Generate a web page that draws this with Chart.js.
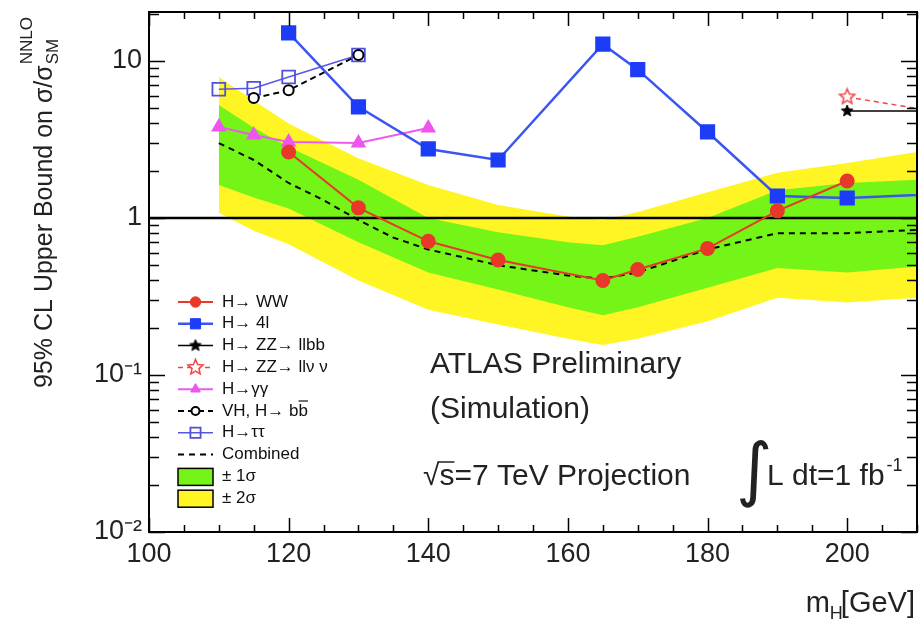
<!DOCTYPE html>
<html>
<head>
<meta charset="utf-8">
<script src="https://cdn.jsdelivr.net/npm/chart.js@4"></script>
<style>
  html, body { margin: 0; padding: 0; background: #fff; }
</style>
</head>
<body>
<canvas id="chart" width="924" height="621"></canvas>
<script>
// Werte (m_H in GeV, Grenze relativ zu sigma_SM)
const massWW = [120, 130, 140, 150, 165, 170, 180, 190, 200];
const limitWW = [2.63, 1.16, 0.71, 0.54, 0.40, 0.47, 0.64, 1.11, 1.72];

const mass4l = [120, 130, 140, 150, 165, 170, 180, 190, 200, 220];
const limit4l = [15.1, 5.1, 2.75, 2.34, 12.8, 8.8, 3.53, 1.38, 1.34, 1.46];

const massLLBB = [200, 220];
const limitLLBB = [4.8, 4.8];

const massLLNN = [200, 220];
const limitLLNN = [5.9, 4.2];

const massGG = [110, 115, 120, 130, 140];
const limitGG = [3.8, 3.38, 3.05, 3.0, 3.74];

const massVH = [115, 120, 130];
const limitVH = [5.8, 6.5, 10.9];

const massTT = [110, 115, 120, 130];
const limitTT = [6.6, 6.7, 7.9, 10.9];

const massComb = [110, 115, 120, 125, 130, 135, 140, 150, 160, 165, 170, 180, 190, 200, 210];
const limitComb = [3.0, 2.34, 1.67, 1.30, 0.97, 0.75, 0.63, 0.50, 0.43, 0.41, 0.45, 0.63, 0.80, 0.80, 0.84];

const massBand = [110, 115, 120, 130, 140, 150, 160, 165, 170, 180, 190, 200, 210];
const yellowUp = [7.9, 5.6, 4.0, 2.4, 1.62, 1.21, 1.02, 0.97, 1.09, 1.46, 1.94, 2.24, 2.63];
const greenUp  = [5.25, 3.75, 2.83, 1.75, 1.0, 0.81, 0.70, 0.67, 0.76, 1.0, 1.5, 1.67, 1.75];
const greenLo  = [1.62, 1.35, 1.15, 0.70, 0.45, 0.35, 0.27, 0.24, 0.27, 0.36, 0.48, 0.45, 0.49];
const yellowLo = [1.08, 0.83, 0.68, 0.40, 0.26, 0.21, 0.17, 0.155, 0.17, 0.22, 0.31, 0.29, 0.31];

const unityMass = [100, 210];
const unityLimit = [1, 1];

const xTickValues = [100, 120, 140, 160, 180, 200];
const yTickValues = [0.01, 0.1, 1, 10];
const yTickLabels = ['10⁻²', '10⁻¹', '1', '10'];

const FONT = '"Liberation Sans", Arial, Helvetica, sans-serif';
const GREEN = '#74f517';
const YELLOW = '#fff524';

function pts(xs, ys) {
  return xs.map((x, i) => ({ x: x, y: ys[i] }));
}

// kleiner Stern als Punktsymbol
function starCanvas(r, fill, stroke, lw) {
  const c = document.createElement('canvas');
  const s = Math.ceil(r * 2 + lw * 2 + 2);
  c.width = s; c.height = s;
  const g = c.getContext('2d');
  g.beginPath();
  for (let i = 0; i < 10; i++) {
    const a = -Math.PI / 2 + i * Math.PI / 5;
    const rr = i % 2 ? r * 0.45 : r;
    g.lineTo(s / 2 + rr * Math.cos(a), s / 2 + rr * Math.sin(a));
  }
  g.closePath();
  if (fill) { g.fillStyle = fill; g.fill(); }
  if (stroke) { g.lineWidth = lw; g.strokeStyle = stroke; g.stroke(); }
  return c;
}

const blackStar = starCanvas(6, '#000', '#000', 1);
const redStar = starCanvas(8, '#fff', '#f04545', 1.5);

const datasets = [
  { label: 'yellowUp', data: pts(massBand, yellowUp), fill: 1, backgroundColor: YELLOW, borderWidth: 0, pointRadius: 0, order: 4 },
  { label: 'yellowLo', data: pts(massBand, yellowLo), fill: false, borderWidth: 0, pointRadius: 0, order: 4 },
  { label: 'greenUp', data: pts(massBand, greenUp), fill: 3, backgroundColor: GREEN, borderWidth: 0, pointRadius: 0, order: 3 },
  { label: 'greenLo', data: pts(massBand, greenLo), fill: false, borderWidth: 0, pointRadius: 0, order: 3 },
  { label: 'unity', data: pts(unityMass, unityLimit), borderColor: '#000', borderWidth: 2.5, pointRadius: 0, order: 2 },
  { label: 'Combined', data: pts(massComb, limitComb), borderColor: '#000', borderWidth: 2, borderDash: [6, 5], pointRadius: 0, order: 1 },
  { label: 'H→ WW', data: pts(massWW, limitWW), borderColor: '#e8382a', borderWidth: 2, pointStyle: 'circle', pointRadius: 6.5, pointBackgroundColor: '#e8382a', pointBorderColor: '#e8382a', order: 0 },
  { label: 'H→ 4l', data: pts(mass4l, limit4l), borderColor: '#3a55f0', borderWidth: 2.5, pointStyle: 'rect', pointRadius: 9, pointBackgroundColor: '#1c3cf8', pointBorderColor: '#1c3cf8', order: 0 },
  { label: 'H→ ZZ→ llbb', data: pts(massLLBB, limitLLBB), borderColor: '#000', borderWidth: 1.5, pointStyle: blackStar, pointRadius: 6, order: 0 },
  { label: 'H→ ZZ→ llν ν', data: pts(massLLNN, limitLLNN), borderColor: '#f04545', borderWidth: 1.5, borderDash: [5, 4], pointStyle: redStar, pointRadius: 8, order: 0 },
  { label: 'H→γγ', data: pts(massGG, limitGG), borderColor: '#ee5aee', borderWidth: 2, pointStyle: 'triangle', pointRadius: 7, pointBackgroundColor: '#ee55ee', pointBorderColor: '#ee55ee', order: 0 },
  { label: 'VH, H→ bb', overline: true, data: pts(massVH, limitVH), borderColor: '#000', borderWidth: 2, borderDash: [6, 4], pointStyle: 'circle', pointRadius: 5, pointBorderWidth: 2, pointBackgroundColor: '#fff', pointBorderColor: '#000', order: 0 },
  { label: 'H→ττ', data: pts(massTT, limitTT), borderColor: '#5858e6', borderWidth: 1.5, pointStyle: 'rect', pointRadius: 9, pointBorderWidth: 1.8, pointBackgroundColor: 'rgba(0,0,0,0)', pointBorderColor: '#5050e0', order: 0 }
];

const legendOrder = [6, 7, 8, 9, 10, 11, 12, 5];

// Rahmen, Striche nach innen, Legende und Beschriftungen
const decorPlugin = {
  id: 'decor',
  afterDraw(chart) {
    const ctx = chart.ctx;
    const a = chart.chartArea;
    const xs = chart.scales.x;
    const ys = chart.scales.y;
    ctx.save();
    ctx.strokeStyle = '#000';
    ctx.lineWidth = 2;
    ctx.setLineDash([]);
    ctx.strokeRect(a.left, a.top, a.right - a.left, a.bottom - a.top);

    ctx.lineWidth = 1.5;
    ctx.beginPath();
    for (let v = 100; v <= 210; v += 5) {
      const px = Math.round(xs.getPixelForValue(v)) + 0.5;
      const len = v % 20 === 0 ? 14 : 7;
      ctx.moveTo(px, a.bottom); ctx.lineTo(px, a.bottom - len);
      ctx.moveTo(px, a.top); ctx.lineTo(px, a.top + len);
    }
    for (let d = 0.01; d < 100; d *= 10) {
      for (let m = 1; m <= 9; m++) {
        const v = d * m;
        if (v < ys.min * 0.999 || v > ys.max) continue;
        const py = Math.round(ys.getPixelForValue(v)) + 0.5;
        const len = m === 1 ? 16 : 10;
        ctx.moveTo(a.left, py); ctx.lineTo(a.left + len, py);
        ctx.moveTo(a.right, py); ctx.lineTo(a.right - len, py);
      }
    }
    ctx.stroke();

    // Legende
    const lx0 = 178, lx1 = 213, tx = 222;
    let ly = 302;
    const step = 21.8;
    ctx.font = '17px ' + FONT;
    ctx.textBaseline = 'middle';
    ctx.textAlign = 'left';
    legendOrder.forEach(idx => {
      const ds = chart.data.datasets[idx];
      ctx.strokeStyle = ds.borderColor;
      ctx.lineWidth = ds.borderWidth;
      ctx.setLineDash(ds.borderDash || []);
      ctx.beginPath();
      ctx.moveTo(lx0, ly); ctx.lineTo(lx1, ly);
      ctx.stroke();
      ctx.setLineDash([]);
      if (ds.pointRadius) {
        ctx.fillStyle = ds.pointBackgroundColor || '#000';
        ctx.strokeStyle = ds.pointBorderColor || ds.borderColor;
        ctx.lineWidth = ds.pointBorderWidth || 1;
        Chart.helpers.drawPoint(ctx, { pointStyle: ds.pointStyle, radius: ds.pointRadius * 0.8, borderWidth: ds.pointBorderWidth || 1, rotation: 0 }, (lx0 + lx1) / 2, ly);
      }
      ctx.fillStyle = '#111';
      ctx.fillText(ds.label, tx, ly);
      if (ds.overline) {
        const full = ctx.measureText(ds.label).width;
        const bw = ctx.measureText('b').width;
        ctx.strokeStyle = '#111';
        ctx.lineWidth = 1.2;
        ctx.beginPath();
        ctx.moveTo(tx + full - bw, ly - 10); ctx.lineTo(tx + full, ly - 10);
        ctx.stroke();
      }
      ly += step;
    });
    [[GREEN, '± 1σ'], [YELLOW, '± 2σ']].forEach(b => {
      ctx.fillStyle = b[0];
      ctx.fillRect(lx0, ly - 8, lx1 - lx0, 17);
      ctx.strokeStyle = '#000';
      ctx.lineWidth = 1.5;
      ctx.strokeRect(lx0, ly - 8, lx1 - lx0, 17);
      ctx.fillStyle = '#111';
      ctx.fillText(b[1], tx, ly);
      ly += step;
    });

    // Texte im Diagramm
    ctx.textBaseline = 'alphabetic';
    ctx.fillStyle = '#222';
    ctx.font = '30px ' + FONT;
    ctx.fillText('ATLAS Preliminary', 430, 373);
    ctx.fillText('(Simulation)', 430, 418);
    const sqrtText = '√s=7 TeV Projection';
    ctx.fillText(sqrtText, 423, 485);
    const wRoot = ctx.measureText('√').width;
    const wS = ctx.measureText('s').width;
    ctx.strokeStyle = '#222';
    ctx.lineWidth = 1.5;
    ctx.beginPath();
    ctx.moveTo(423 + wRoot - 1, 462); ctx.lineTo(423 + wRoot + wS, 462);
    ctx.stroke();
    ctx.font = '70px "DejaVu Sans", sans-serif';
    ctx.fillText('∫', 736, 493);
    ctx.font = '30px ' + FONT;
    ctx.fillText('L dt=1 fb', 767, 485);
    const wFb = ctx.measureText('L dt=1 fb').width;
    ctx.font = '18px ' + FONT;
    ctx.fillText('-1', 767 + wFb + 2, 471);

    // Achsentitel y
    ctx.save();
    ctx.translate(52, 388);
    ctx.rotate(-Math.PI / 2);
    ctx.font = '25px ' + FONT;
    const main = '95% CL Upper Bound on σ/σ';
    ctx.fillText(main, 0, 0);
    const wm = ctx.measureText(main).width;
    ctx.font = '17px ' + FONT;
    ctx.fillText('SM', wm + 1, 6);
    ctx.fillText('NNLO', wm + 1, -20);
    ctx.restore();

    // Achsentitel x
    ctx.font = '29px ' + FONT;
    const wM = ctx.measureText('m').width;
    const wG = ctx.measureText('[GeV]').width;
    ctx.font = '18px ' + FONT;
    const wH = ctx.measureText('H').width;
    const xStart = 917 - wM - wH - wG;
    ctx.font = '29px ' + FONT;
    ctx.fillText('m', xStart, 612);
    ctx.fillText('[GeV]', xStart + wM + wH - 2, 612);
    ctx.font = '18px ' + FONT;
    ctx.fillText('H', xStart + wM, 619);
    ctx.restore();
  }
};

new Chart(document.getElementById('chart'), {
  type: 'line',
  data: { datasets: datasets },
  options: {
    responsive: false,
    animation: false,
    layout: { autoPadding: false, padding: { top: 12, right: 7, left: 0, bottom: 0 } },
    plugins: { legend: { display: false }, tooltip: { enabled: false } },
    scales: {
      x: {
        type: 'linear',
        min: 100,
        max: 210,
        grid: { display: false, drawTicks: false },
        border: { display: false },
        ticks: { font: { size: 27, family: FONT }, color: '#222', padding: 6, maxRotation: 0, autoSkip: false },
        afterBuildTicks: s => { s.ticks = xTickValues.map(v => ({ value: v })); },
        afterFit: s => { s.height = 89; s.paddingLeft = 0; s.paddingRight = 0; }
      },
      y: {
        type: 'logarithmic',
        min: 0.01,
        max: 20.5,
        grid: { display: false, drawTicks: false },
        border: { display: false },
        ticks: {
          font: { size: 27, family: FONT }, color: '#222', padding: 7, autoSkip: false,
          callback: (v, i) => yTickLabels[i]
        },
        afterBuildTicks: s => { s.ticks = yTickValues.map(v => ({ value: v })); },
        afterFit: s => { s.width = 149; s.paddingTop = 0; s.paddingBottom = 0; }
      }
    }
  },
  plugins: [decorPlugin]
});
</script>
</body>
</html>
